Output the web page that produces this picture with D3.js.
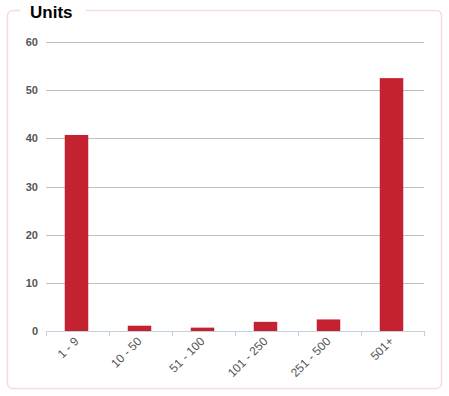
<!DOCTYPE html>
<html>
<head>
<meta charset="utf-8">
<script src="https://cdn.jsdelivr.net/npm/d3@7"></script>
<style>
  body { margin: 0; background: #fff; }
  svg { display: block; font-family: "Liberation Sans", Arial, sans-serif; }
</style>
</head>
<body>
<svg id="chart"></svg>
<script>
// chart data
var categories = ['1 - 9', '10 - 50', '51 - 100', '101 - 250', '251 - 500', '501+'];
var units = [40.7, 1.1, 0.7, 1.9, 2.4, 52.5];
var yTicks = [0, 10, 20, 30, 40, 50, 60];

var width = 449,
	height = 396,
	plotLeft = 46, plotRight = 424,
	plotTop = 42, plotBottom = 331;

var svg = d3.select('#chart')
	.attr('width', width)
	.attr('height', height);

// panel frame
svg.append('rect')
	.attr('x', 7.5).attr('y', 10.5)
	.attr('width', 434).attr('height', 378)
	.attr('rx', 5)
	.attr('fill', 'none')
	.attr('stroke', '#f7dcdf')
	.attr('stroke-width', 1.5);

// title box breaks the frame
svg.append('rect')
	.attr('x', 20).attr('y', 2)
	.attr('width', 66).attr('height', 18)
	.attr('fill', '#fff');

svg.append('text')
	.attr('x', 30).attr('y', 18)
	.attr('font-size', 17)
	.attr('font-weight', 'bold')
	.attr('fill', '#000')
	.text('Units');

var x = d3.scaleBand()
	.domain(categories)
	.range([plotLeft, plotRight])
	.paddingInner(0)
	.paddingOuter(0);

var y = d3.scaleLinear()
	.domain([0, 60])
	.range([plotBottom, plotTop]);

// gridlines
svg.selectAll('.grid')
	.data(yTicks.filter(function(d) { return d > 0; }))
	.enter().append('line')
		.attr('class', 'grid')
		.attr('x1', plotLeft).attr('x2', plotRight)
		.attr('y1', function(d) { return Math.round(y(d)) + 0.5; })
		.attr('y2', function(d) { return Math.round(y(d)) + 0.5; })
		.attr('stroke', '#c0c0c0')
		.attr('stroke-width', 1);

// y labels
svg.selectAll('.ylab')
	.data(yTicks)
	.enter().append('text')
		.attr('class', 'ylab')
		.attr('x', 38)
		.attr('y', function(d) { return y(d) + 4; })
		.attr('text-anchor', 'end')
		.attr('font-size', 11)
		.attr('font-weight', 'bold')
		.attr('fill', '#555')
		.text(function(d) { return d; });

// bars
var barWidth = 23.5;
svg.selectAll('.bar')
	.data(units)
	.enter().append('rect')
		.attr('class', 'bar')
		.attr('x', function(d, i) { return x(categories[i]) + x.bandwidth() / 2 - barWidth / 2 - 1; })
		.attr('y', function(d) { return y(d); })
		.attr('width', barWidth)
		.attr('height', function(d) { return y(0) - y(d); })
		.attr('fill', '#c42230');

// x axis line and ticks
svg.append('line')
	.attr('x1', plotLeft).attr('x2', plotRight)
	.attr('y1', plotBottom + 0.5).attr('y2', plotBottom + 0.5)
	.attr('stroke', '#c0d0e0');

var tickPos = categories.map(function(c) { return x(c); }).concat([plotRight]);
svg.selectAll('.tick')
	.data(tickPos)
	.enter().append('line')
		.attr('class', 'tick')
		.attr('x1', function(d) { return Math.round(d) + 0.5; })
		.attr('x2', function(d) { return Math.round(d) + 0.5; })
		.attr('y1', plotBottom).attr('y2', plotBottom + 5)
		.attr('stroke', '#c0d0e0');

// rotated category labels
svg.selectAll('.xlab')
	.data(categories)
	.enter().append('text')
		.attr('class', 'xlab')
		.attr('transform', function(d) {
			return 'translate(' + (x(d) + x.bandwidth() / 2 + 2) + ',' + (plotBottom + 11) + ') rotate(-45)';
		})
		.attr('text-anchor', 'end')
		.attr('font-size', 12)
		.attr('fill', '#555')
		.text(function(d) { return d; });
</script>
</body>
</html>
